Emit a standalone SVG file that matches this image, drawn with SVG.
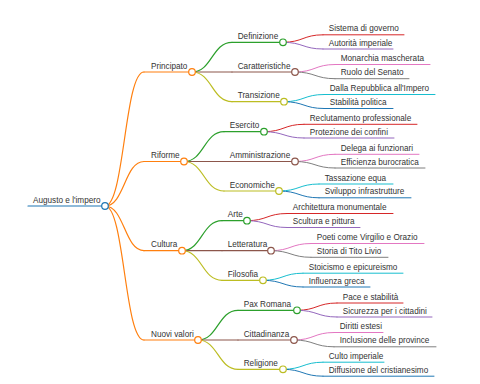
<svg xmlns="http://www.w3.org/2000/svg" width="480" height="384" viewBox="0 0 480 384">
<style>
text{font-family:"Liberation Sans",Arial,sans-serif;font-size:8.2px;fill:#333}
path,line{fill:none;stroke-width:1.2;stroke-linecap:round}
circle{fill:#fff;stroke-width:1.2}
.blue{stroke:#1f77b4}.orange{stroke:#ff7f0e}.green{stroke:#2ca02c}.brown{stroke:#8c564b}.olive{stroke:#bcbd22}
.red{stroke:#d62728}.purple{stroke:#9467bd}.pink{stroke:#e377c2}.gray{stroke:#7f7f7f}.cyan{stroke:#17becf}
.leaf{stroke-width:1}
</style>
<rect width="480" height="384" fill="#fff"/>
<g id="connectors">
<path class="orange" d="M105 206C124.5 206 124.5 72 144 72"/>
<path class="orange" d="M105 206C124.5 206 124.5 161.5 144 161.5"/>
<path class="orange" d="M105 206C124.5 206 124.5 250.7 144 250.7"/>
<path class="orange" d="M105 206C124.5 206 124.5 340 144 340"/>
<path class="green" d="M192 72C212 72 212 42.3 232 42.3"/>
<path class="brown" d="M192 72H232"/>
<path class="olive" d="M192 72C212 72 212 101.7 232 101.7"/>
<path class="green" d="M184 161.5C204 161.5 204 131.7 224 131.7"/>
<path class="brown" d="M184 161.5H224"/>
<path class="olive" d="M184 161.5C204 161.5 204 191 224 191"/>
<path class="green" d="M182 250.7C202 250.7 202 220.7 222 220.7"/>
<path class="brown" d="M182 250.7H222"/>
<path class="olive" d="M182 250.7C202 250.7 202 280.3 222 280.3"/>
<path class="green" d="M198 340C218 340 218 310.3 238 310.3"/>
<path class="brown" d="M198 340H238"/>
<path class="olive" d="M198 340C218 340 218 369.3 238 369.3"/>
<path class="red leaf" d="M283 42.3C303 42.3 303 34.8 323 34.8"/>
<path class="purple leaf" d="M283 42.3C303 42.3 303 49 323 49"/>
<path class="pink leaf" d="M295 72C315 72 315 64.5 335 64.5"/>
<path class="gray leaf" d="M295 72C315 72 315 78.7 335 78.7"/>
<path class="cyan leaf" d="M284 101.7C304 101.7 304 94.5 324 94.5"/>
<path class="blue leaf" d="M284 101.7C304 101.7 304 108.5 324 108.5"/>
<path class="red leaf" d="M264 131.7C284 131.7 284 124.3 304 124.3"/>
<path class="purple leaf" d="M264 131.7C284 131.7 284 138 304 138"/>
<path class="pink leaf" d="M295 161.5C315 161.5 315 154.3 335 154.3"/>
<path class="gray leaf" d="M295 161.5C315 161.5 315 168 335 168"/>
<path class="cyan leaf" d="M279 191C299 191 299 184 319 184"/>
<path class="blue leaf" d="M279 191C299 191 299 197.8 319 197.8"/>
<path class="red leaf" d="M247 220.7C267 220.7 267 213.5 287 213.5"/>
<path class="purple leaf" d="M247 220.7C267 220.7 267 227.5 287 227.5"/>
<path class="pink leaf" d="M271 250.7C291 250.7 291 243.5 311 243.5"/>
<path class="gray leaf" d="M271 250.7C291 250.7 291 257.3 311 257.3"/>
<path class="cyan leaf" d="M263 280.3C283 280.3 283 273.2 303 273.2"/>
<path class="blue leaf" d="M263 280.3C283 280.3 283 287 303 287"/>
<path class="red leaf" d="M297 310.3C317 310.3 317 303 337 303"/>
<path class="purple leaf" d="M297 310.3C317 310.3 317 317 337 317"/>
<path class="pink leaf" d="M294 340C314 340 314 332.5 334 332.5"/>
<path class="gray leaf" d="M294 340C314 340 314 346.8 334 346.8"/>
<path class="cyan leaf" d="M283 369.3C303 369.3 303 362.2 323 362.2"/>
<path class="blue leaf" d="M283 369.3C303 369.3 303 376.2 323 376.2"/>
</g>
<g id="root"><path class="blue" d="M28 206H105"/><text x="33" y="202.5">Augusto e l'impero</text><circle class="blue" cx="105" cy="206" r="3.3"/></g>
<g id="principato"><path class="orange" d="M144 72H192"/><text x="151" y="68.5">Principato</text><circle class="orange" cx="192" cy="72" r="3.3"/></g>
<g id="riforme"><path class="orange" d="M144 161.5H184"/><text x="151" y="158">Riforme</text><circle class="orange" cx="184" cy="161.5" r="3.3"/></g>
<g id="cultura"><path class="orange" d="M144 250.7H182"/><text x="151" y="247.2">Cultura</text><circle class="orange" cx="182" cy="250.7" r="3.3"/></g>
<g id="nuovi-valori"><path class="orange" d="M144 340H198"/><text x="151" y="336.5">Nuovi valori</text><circle class="orange" cx="198" cy="340" r="3.3"/></g>
<g id="definizione"><path class="green" d="M232 42.3H283"/><text x="237.7" y="38.8">Definizione</text><circle class="green" cx="283" cy="42.3" r="3.3"/></g>
<g id="caratteristiche"><path class="brown" d="M232 72H295"/><text x="237.7" y="68.5">Caratteristiche</text><circle class="brown" cx="295" cy="72" r="3.3"/></g>
<g id="transizione"><path class="olive" d="M232 101.7H284"/><text x="237.7" y="98.2">Transizione</text><circle class="olive" cx="284" cy="101.7" r="3.3"/></g>
<g id="esercito"><path class="green" d="M224 131.7H264"/><text x="229.7" y="128.2">Esercito</text><circle class="green" cx="264" cy="131.7" r="3.3"/></g>
<g id="amministrazione"><path class="brown" d="M224 161.5H295"/><text x="229.7" y="158">Amministrazione</text><circle class="brown" cx="295" cy="161.5" r="3.3"/></g>
<g id="economiche"><path class="olive" d="M224 191H279"/><text x="229.7" y="187.5">Economiche</text><circle class="olive" cx="279" cy="191" r="3.3"/></g>
<g id="arte"><path class="green" d="M222 220.7H247"/><text x="227.7" y="217.2">Arte</text><circle class="green" cx="247" cy="220.7" r="3.3"/></g>
<g id="letteratura"><path class="brown" d="M222 250.7H271"/><text x="227.7" y="247.2">Letteratura</text><circle class="brown" cx="271" cy="250.7" r="3.3"/></g>
<g id="filosofia"><path class="olive" d="M222 280.3H263"/><text x="227.7" y="276.8">Filosofia</text><circle class="olive" cx="263" cy="280.3" r="3.3"/></g>
<g id="pax-romana"><path class="green" d="M238 310.3H297"/><text x="243.7" y="306.8">Pax Romana</text><circle class="green" cx="297" cy="310.3" r="3.3"/></g>
<g id="cittadinanza"><path class="brown" d="M238 340H294"/><text x="243.7" y="336.5">Cittadinanza</text><circle class="brown" cx="294" cy="340" r="3.3"/></g>
<g id="religione"><path class="olive" d="M238 369.3H283"/><text x="243.7" y="365.8">Religione</text><circle class="olive" cx="283" cy="369.3" r="3.3"/></g>
<g id="sistema"><path class="red leaf" d="M323 34.8H404"/><text x="328.7" y="31.3">Sistema di governo</text></g>
<g id="autorita"><path class="purple leaf" d="M323 49H393"/><text x="328.7" y="45.5">Autorità imperiale</text></g>
<g id="monarchia"><path class="pink leaf" d="M335 64.5H430"/><text x="340.7" y="61">Monarchia mascherata</text></g>
<g id="ruolo"><path class="gray leaf" d="M335 78.7H409"/><text x="340.7" y="75.2">Ruolo del Senato</text></g>
<g id="dalla"><path class="cyan leaf" d="M324 94.5H435"/><text x="329.7" y="91">Dalla Repubblica all'Impero</text></g>
<g id="stabilita"><path class="blue leaf" d="M324 108.5H393"/><text x="329.7" y="105">Stabilità politica</text></g>
<g id="reclutamento"><path class="red leaf" d="M304 124.3H417"/><text x="309.7" y="120.8">Reclutamento professionale</text></g>
<g id="protezione"><path class="purple leaf" d="M304 138H394"/><text x="309.7" y="134.5">Protezione dei confini</text></g>
<g id="delega"><path class="pink leaf" d="M335 154.3H419"/><text x="340.7" y="150.8">Delega ai funzionari</text></g>
<g id="efficienza"><path class="gray leaf" d="M335 168H425"/><text x="340.7" y="164.5">Efficienza burocratica</text></g>
<g id="tassazione"><path class="cyan leaf" d="M319 184H393"/><text x="324.7" y="180.5">Tassazione equa</text></g>
<g id="sviluppo"><path class="blue leaf" d="M319 197.8H411"/><text x="324.7" y="194.3">Sviluppo infrastrutture</text></g>
<g id="architettura"><path class="red leaf" d="M287 213.5H393"/><text x="292.7" y="210">Architettura monumentale</text></g>
<g id="scultura"><path class="purple leaf" d="M287 227.5H360"/><text x="292.7" y="224">Scultura e pittura</text></g>
<g id="poeti"><path class="pink leaf" d="M311 243.5H424"/><text x="316.7" y="240">Poeti come Virgilio e Orazio</text></g>
<g id="storia"><path class="gray leaf" d="M311 257.3H388"/><text x="316.7" y="253.8">Storia di Tito Livio</text></g>
<g id="stoicismo"><path class="cyan leaf" d="M303 273.2H403"/><text x="308.7" y="269.7">Stoicismo e epicureismo</text></g>
<g id="influenza"><path class="blue leaf" d="M303 287H370"/><text x="308.7" y="283.5">Influenza greca</text></g>
<g id="pace"><path class="red leaf" d="M337 303H403"/><text x="342.7" y="299.5">Pace e stabilità</text></g>
<g id="sicurezza"><path class="purple leaf" d="M337 317H432"/><text x="342.7" y="313.5">Sicurezza per i cittadini</text></g>
<g id="diritti"><path class="pink leaf" d="M334 332.5H383"/><text x="339.7" y="329">Diritti estesi</text></g>
<g id="inclusione"><path class="gray leaf" d="M334 346.8H436"/><text x="339.7" y="343.3">Inclusione delle province</text></g>
<g id="culto"><path class="cyan leaf" d="M323 362.2H384"/><text x="328.7" y="358.7">Culto imperiale</text></g>
<g id="diffusione"><path class="blue leaf" d="M323 376.2H434"/><text x="328.7" y="372.7">Diffusione del cristianesimo</text></g>
</svg>
